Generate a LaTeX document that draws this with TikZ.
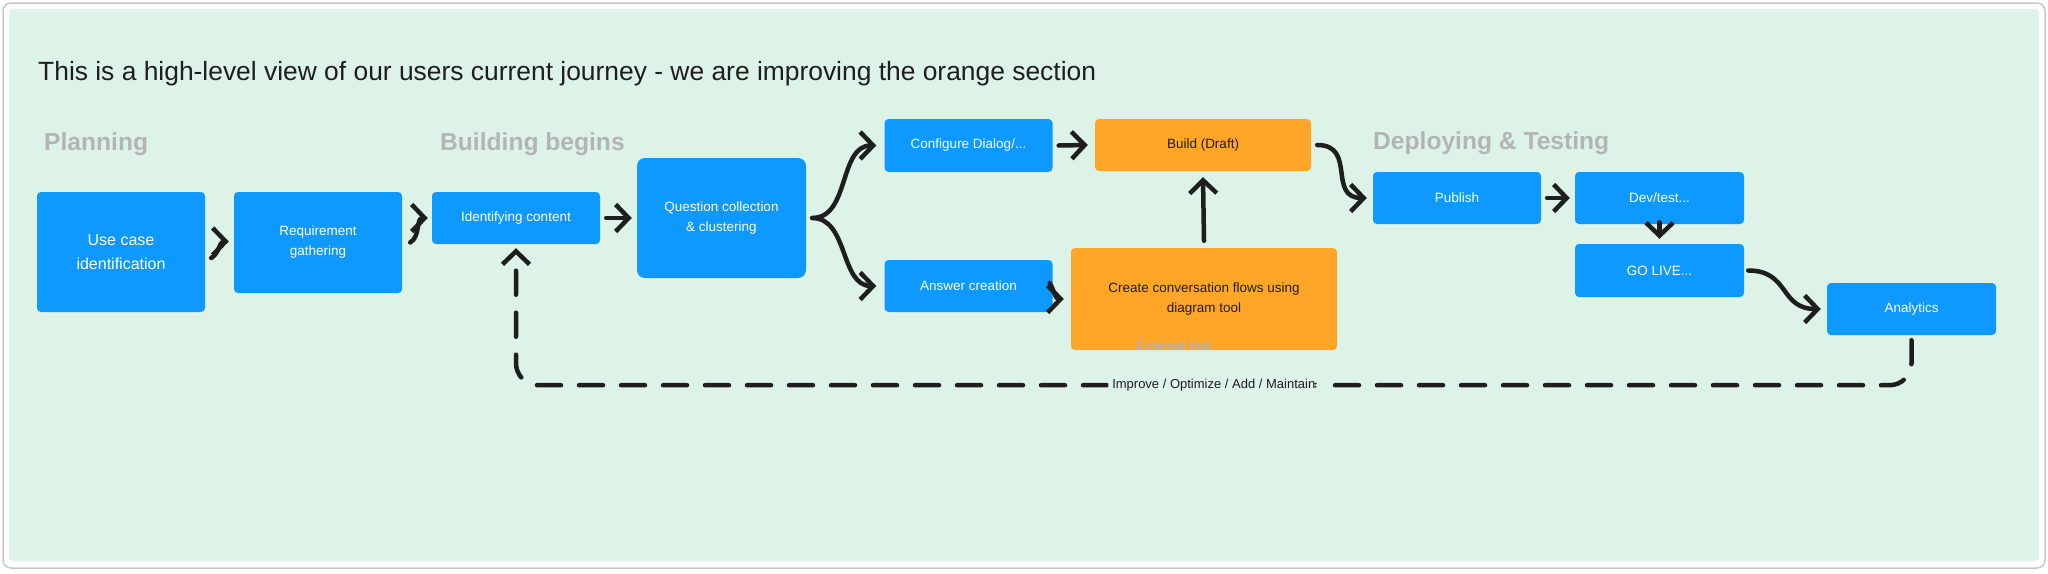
\documentclass[tikz,border=0pt]{standalone}
\usepackage{fontspec}
\setmainfont{Liberation Sans}
\usetikzlibrary{arrows.meta}
\definecolor{framegreen}{RGB}{221,243,231}
\definecolor{framegray}{RGB}{200,200,200}
\definecolor{figblue}{RGB}{13,153,255}
\definecolor{figorange}{RGB}{255,166,41}
\definecolor{headgray}{RGB}{180,180,180}
\definecolor{ink}{RGB}{30,30,30}

\begin{document}
\begin{tikzpicture}[x = 1pt, y = -1pt]
\tikzstyle{box}=[fill = figblue, rounded corners = 4pt, text = white, align = center, inner sep = 0pt, minimum width = 168pt, minimum height = 52pt, font = \fontsize{13.5}{20}\selectfont]
\tikzstyle{orangebox}=[box, fill = figorange, text = ink]
\tikzstyle{heading}=[anchor = base west, inner sep = 0pt, text = headgray, font = \fontsize{24.6}{30}\selectfont\bfseries]
\tikzstyle{arrow}=[-{Straight Barb[length = 13pt, width = 27pt]}, draw = ink, line width = 4.5pt, line cap = round, line join = round]
\tikzstyle{loopback}=[arrow, dash pattern = on 24pt off 18pt, rounded corners = 22pt]
\useasboundingbox (0,0) rectangle (2048,573);
\draw [draw = framegray, fill = white, rounded corners = 8pt, line width = 1.5pt] (3,3) rectangle (2045,568);
\fill [framegreen, rounded corners = 4pt] (9,9) rectangle (2039,561);
\node (title) [anchor = base west, inner sep = 0pt, text = ink, font = \fontsize{26.4}{30}\selectfont] at (38,80) {This is a high-level view of our users current journey - we are improving the orange section};
\node (planning) [heading] at (44,150) {Planning};
\node (building) [heading] at (440,150) {Building begins};
\node (deploying) [heading] at (1373,149) {Deploying \& Testing};
\node (usecase) [box, minimum height = 120pt, font = \fontsize{16}{24}\selectfont] at (121,252) {Use case\\identification};
\node (req) [box, minimum height = 101pt] at (318,242.5) {Requirement\\gathering};
\node (ident) [box] at (516,218) {Identifying content};
\node (quest) [box, minimum width = 169pt, minimum height = 120pt, rounded corners = 8pt] at (721.5,218) {Question collection\\\& clustering};
\node (config) [box, minimum height = 53pt] at (968.5,145.5) {Configure Dialog/...};
\node (answer) [box] at (968.5,286) {Answer creation};
\node (build) [orangebox, minimum width = 216pt] at (1203,145) {Build (Draft)};
\node (flows) [orangebox, minimum width = 266pt, minimum height = 102pt] at (1204,299) {Create conversation flows using\\diagram tool};
\node (external) [anchor = base, inner sep = 0pt, text = headgray, font = \fontsize{12.5}{14}\selectfont\bfseries] at (1174,350) {External tool};
\node (publish) [box] at (1457,198) {Publish};
\node (devtest) [box, minimum width = 169pt] at (1659.5,198) {Dev/test...};
\node (golive) [box, minimum width = 169pt, minimum height = 53pt] at (1659.5,270.5) {GO LIVE...};
\node (analytics) [box, minimum width = 169pt] at (1911.5,309) {Analytics};
% flow
\draw [arrow] ([xshift = 6pt, yshift = -6pt]usecase.east) to[out = 30, in = 180] ([xshift = -5pt, yshift = 1pt]req.west);
\draw [arrow] ([xshift = 8pt]req.east) to[out = 30, in = 180] ([xshift = -4pt]ident.west);
\draw [arrow] ([xshift = 6pt]ident.east) -- ([xshift = -5pt]quest.west);
\draw [arrow] ([xshift = 6pt]quest.east) to[out = 0, in = 180] ([xshift = -8pt]config.west);
\draw [arrow] ([xshift = 6pt]quest.east) to[out = 0, in = 180] ([xshift = -8pt]answer.west);
\draw [arrow] ([xshift = 6pt]config.east) -- ([xshift = -7pt]build.west);
\draw [arrow] ([xshift = -3pt, yshift = 3pt]answer.east) to[out = -60, in = 180] ([xshift = -7pt]flows.west);
\draw [arrow] ([yshift = 7pt]flows.north) -- ([yshift = -6pt]build.south);
\draw [arrow] ([xshift = 6pt]build.east) to[out = 0, in = 180, looseness = 1.4] ([xshift = -6pt]publish.west);
\draw [arrow] ([xshift = 6pt]publish.east) -- ([xshift = -5pt]devtest.west);
\draw [arrow] ([yshift = 2pt]devtest.south) -- ([yshift = 5pt]golive.north);
\draw [arrow] ([xshift = 4pt]golive.east) to[out = 0, in = 180, looseness = 1.3] ([xshift = -6pt]analytics.west);
% feedback loop
\draw [loopback] ([yshift = -5pt]analytics.south) -- ++(0,45) -| node [pos = 0.25, fill = framegreen, inner sep = 4pt, text = ink, font = \fontsize{13}{15}\selectfont] {Improve / Optimize / Add / Maintain} ([yshift = -4pt]ident.south);
\end{tikzpicture}
\end{document}
